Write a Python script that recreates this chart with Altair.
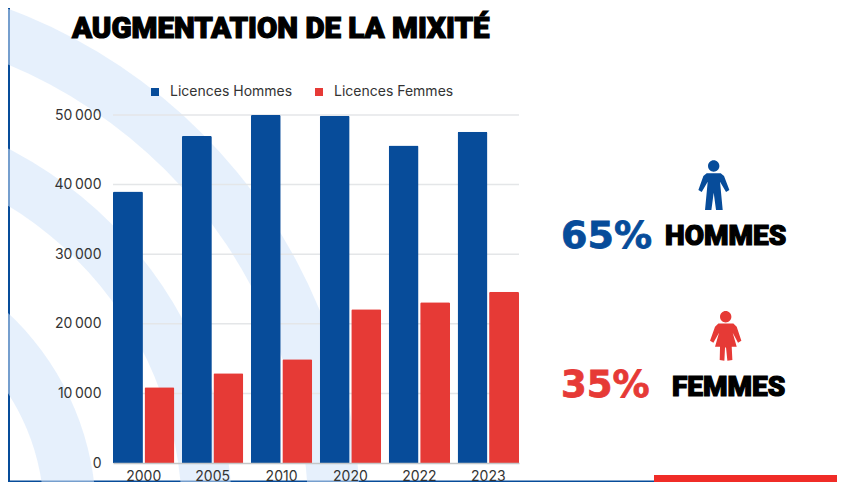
import altair as alt
import pandas as pd
import math

years = ["2000", "2005", "2010", "2020", "2022", "2023"]
hommes = [39000, 47000, 50000, 49900, 45600, 47600]
femmes = [10900, 12900, 14900, 22100, 23100, 24600]
series = ["Licences Hommes", "Licences Femmes"]
grid_values = [10000, 20000, 30000, 40000, 50000]
BLUE = "#074c9a"
RED = "#e63a36"
FX, FY = 113, 115   # plot-area origin in the picture
W, H = 406, 348

df = pd.DataFrame(
    [{"year": y, "serie": series[0], "value": v} for y, v in zip(years, hommes)]
    + [{"year": y, "serie": series[1], "value": v} for y, v in zip(years, femmes)]
)
one = pd.DataFrame({"a": [1]})


def px(x):
    return x - FX


def py(y):
    return y - FY


def rect(x0, x1, y0, y1, color):
    return alt.Chart(one).mark_rect(color=color).encode(
        x=alt.value(px(x0)), x2=alt.value(px(x1)), y=alt.value(py(y0)), y2=alt.value(py(y1))
    )


def band(outer, inner):
    return alt.Chart(one).mark_arc(
        color="#d2e4fa", opacity=0.55, radius=outer, radius2=inner, theta=0, theta2=math.pi
    ).encode(x=alt.value(px(-180)), y=alt.value(py(515)))


def label(txt, x, y, size, color, font, weight, stroke=0.0, align="left"):
    return alt.Chart(one).mark_text(
        text=txt, fontSize=size, color=color, font=font, fontWeight=weight, align=align,
        baseline="alphabetic", stroke=color, strokeWidth=stroke,
    ).encode(x=alt.value(px(x)), y=alt.value(py(y)))


def icon_path(polygon, head, cx, cy, half):
    p = "M" + " L".join(f"{(a-cx)/half:.3f},{(b-cy)/half:.3f}" for a, b in polygon) + " Z"
    hx, hy, r = (head[0]-cx)/half, (head[1]-cy)/half, head[2]/half
    p += f" M{hx-r:.3f},{hy:.3f} A{r:.3f},{r:.3f} 0 1 1 {hx+r:.3f},{hy:.3f} A{r:.3f},{r:.3f} 0 1 1 {hx-r:.3f},{hy:.3f} Z"
    return p


man = [(500,70),(542,70),(552,78),(568,120),(558,126),(540,95),(548,180),(528,180),(521,128),
       (514,180),(495,180),(503,95),(485,126),(475,120),(490,78)]
woman = [(535,520),(580,520),(590,530),(604,572),(594,578),(578,548),(590,590),(575,590),(577,630),
         (562,632),(558,592),(555,592),(553,632),(539,630),(540,590),(525,590),(537,548),(520,578),
         (510,572),(525,530)]


def person(path, x, y, color):
    return alt.Chart(one).mark_point(shape=path, size=2500, filled=True, color=color, opacity=1).encode(
        x=alt.value(px(x)), y=alt.value(py(y))
    )


deco = [
    rect(6, 10, 0, 490, BLUE),
    rect(6, 654, 480.5, 482, BLUE),
    band(540, 488), band(412, 362), band(276, 224),
    rect(654, 850, 475, 490, "#f02c27"),
]

y_axis = alt.Axis(values=[0] + grid_values, grid=False, domain=False, ticks=False, labelPadding=12,
                  labelFont="Inter", labelFontSize=14, labelColor="#333333", zindex=1, title=None,
                  labelExpr="replace(format(datum.value, ','), ',', '\u2009')")
y_scale = alt.Scale(domain=[0, 50000], nice=False)

grid = alt.Chart(pd.DataFrame({"g": grid_values})).mark_rule(color="#e4e6e8", strokeWidth=1.5).encode(
    y=alt.Y("g:Q", scale=y_scale, axis=y_axis, title=None)
)

bars = alt.Chart(df).mark_bar(cornerRadiusTopLeft=1.5, cornerRadiusTopRight=1.5).encode(
    x=alt.X("year:N", sort=years, title=None,
            scale=alt.Scale(paddingInner=0.109, paddingOuter=0),
            axis=alt.Axis(labelAngle=0, ticks=False, labelPadding=6, labelFont="Inter", labelFontSize=14,
                          labelColor="#333333", domainColor="#c4c6c8", domainWidth=1.5, grid=False, zindex=1)),
    xOffset=alt.XOffset("serie:N", sort=series, scale=alt.Scale(domain=series, paddingInner=0.05, paddingOuter=0)),
    y=alt.Y("value:Q", title=None, scale=y_scale, axis=y_axis),
    color=alt.Color("serie:N", sort=series,
                    scale=alt.Scale(domain=series, range=[BLUE, RED]),
                    legend=alt.Legend(orient="none", legendX=35, legendY=-30, direction="horizontal", columns=2,
                                      title=None, symbolType="square", symbolSize=64, symbolStrokeWidth=0,
                                      labelFont="Inter", labelFontSize=14, labelColor="#333333",
                                      columnPadding=19, labelOffset=8)),
)

texts = [
    label("AUGMENTATION DE LA MIXITÉ", 72, 38, 29.5, "#000000", "Roboto", 900, 1.2),
    label("65%", 561, 248, 38, BLUE, "DejaVu Sans", "bold", 0.8),
    label("HOMMES", 665, 245, 28, "#000000", "Roboto", 900, 1.2),
    label("35%", 561, 397, 37, RED, "DejaVu Sans", "bold", 0.8),
    label("FEMMES", 672, 396, 28, "#000000", "Roboto", 900, 1.2),
    person(icon_path(man, (521, 48, 17), 521, 105, 75), 713.7, 185, BLUE),
    person(icon_path(woman, (557, 500, 17), 557, 557, 75), 725.7, 335.7, RED),
]

chart = alt.layer(*deco, grid, bars, *texts).properties(
    width=W, height=H,
    padding={"left": FX - 8, "top": FY - 8, "right": 829 - (FX - 8) - W, "bottom": 474 - (FY - 8) - H},
    autosize=alt.AutoSizeParams(type="none"),
    background="white",
).configure_view(stroke=None)

chart.save("out.html", embed_options={"renderer": "svg", "actions": False})
